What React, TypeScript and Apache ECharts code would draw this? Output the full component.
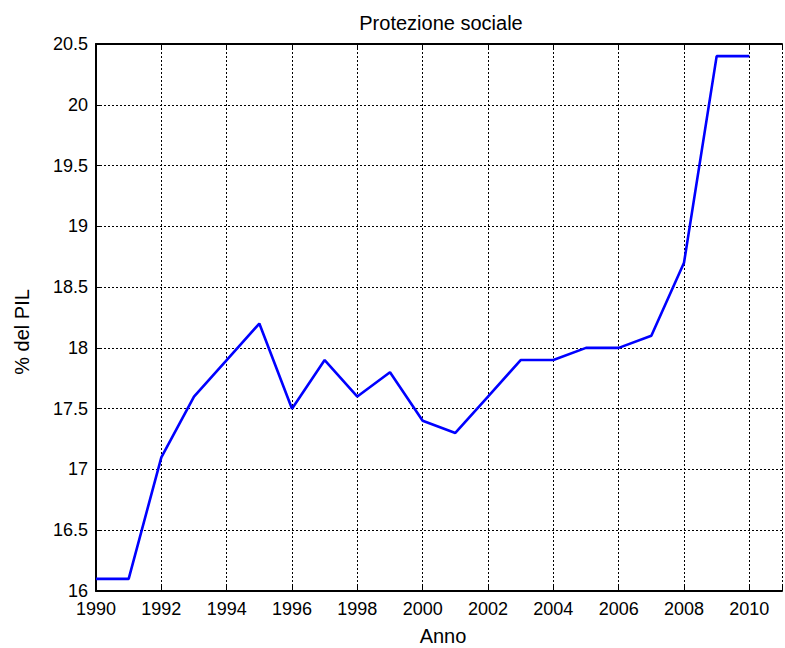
import React, { useEffect, useRef } from "react";
import * as echarts from "echarts";

const years = [1990, 1991, 1992, 1993, 1994, 1995, 1996, 1997, 1998, 1999, 2000, 2001, 2002, 2003, 2004, 2005, 2006, 2007, 2008, 2009, 2010];
const values = [16.1, 16.1, 17.1, 17.6, 17.9, 18.2, 17.5, 17.9, 17.6, 17.8, 17.4, 17.3, 17.6, 17.9, 17.9, 18.0, 18.0, 18.1, 18.7, 20.4, 20.4];
const titleText = "Protezione sociale";
const xLabel = "Anno";
const yLabel = "% del PIL";

const FONT = "'Liberation Sans', Arial, Helvetica, sans-serif";

export default function App() {
  const ref = useRef<HTMLDivElement>(null);
  useEffect(() => {
    if (!ref.current) return;
    const chart = echarts.init(ref.current, undefined, { renderer: "svg" });
    const grid = { left: 96, top: 44, width: 694, height: 547 };
    const split = { show: true, lineStyle: { color: "#000", width: 1, type: [2, 2] as any } };
    const tick = { show: true, inside: true, length: 5, lineStyle: { color: "#000", width: 1 } };
    chart.setOption({
      animation: false,
      backgroundColor: "#fff",
      grid,
      xAxis: [
        {
          type: "value",
          min: 1990,
          max: 2011,
          interval: 2,
          position: "bottom",
          axisLine: { show: true, lineStyle: { color: "#000", width: 2 } },
          axisTick: tick,
          splitLine: split,
          axisLabel: {
            color: "#000",
            fontSize: 18,
            fontFamily: FONT,
            margin: 9,
            formatter: (v: number) => (v % 2 === 0 ? String(v) : ""),
          },
        },
        {
          type: "value",
          min: 1990,
          max: 2011,
          interval: 2,
          position: "top",
          axisLine: { show: true, lineStyle: { color: "#000", width: 2 } },
          axisTick: tick,
          splitLine: { show: false },
          axisLabel: { show: false },
        },
      ],
      yAxis: [
        {
          type: "value",
          min: 16,
          max: 20.5,
          interval: 0.5,
          position: "left",
          axisLine: { show: true, lineStyle: { color: "#000", width: 2 } },
          axisTick: tick,
          splitLine: split,
          axisLabel: {
            color: "#000",
            fontSize: 18,
            fontFamily: FONT,
            margin: 8,
            formatter: (v: number) => String(v),
          },
        },
      ],
      series: [
        {
          type: "line",
          data: years.map((y, i) => [y, values[i]]),
          showSymbol: false,
          symbol: "none",
          lineStyle: { color: "#0000ff", width: 2.6 },
          itemStyle: { color: "#0000ff" },
          z: 5,
        },
      ],
      graphic: [
        {
          type: "text",
          x: 441,
          y: 23,
          style: { text: titleText, fontSize: 20, fontFamily: FONT, fill: "#000", textAlign: "center", textVerticalAlign: "middle" },
        },
        {
          type: "text",
          x: 443,
          y: 636,
          style: { text: xLabel, fontSize: 20, fontFamily: FONT, fill: "#000", textAlign: "center", textVerticalAlign: "middle" },
        },
        {
          type: "text",
          x: 22,
          y: 332,
          rotation: Math.PI / 2,
          style: { text: yLabel, fontSize: 20, fontFamily: FONT, fill: "#000", textAlign: "center", textVerticalAlign: "middle" },
        },
      ],
    });
    return () => chart.dispose();
  }, []);
  return <div ref={ref} style={{ position: "fixed", left: 0, top: 0, width: 785, height: 648 }} />;
}
